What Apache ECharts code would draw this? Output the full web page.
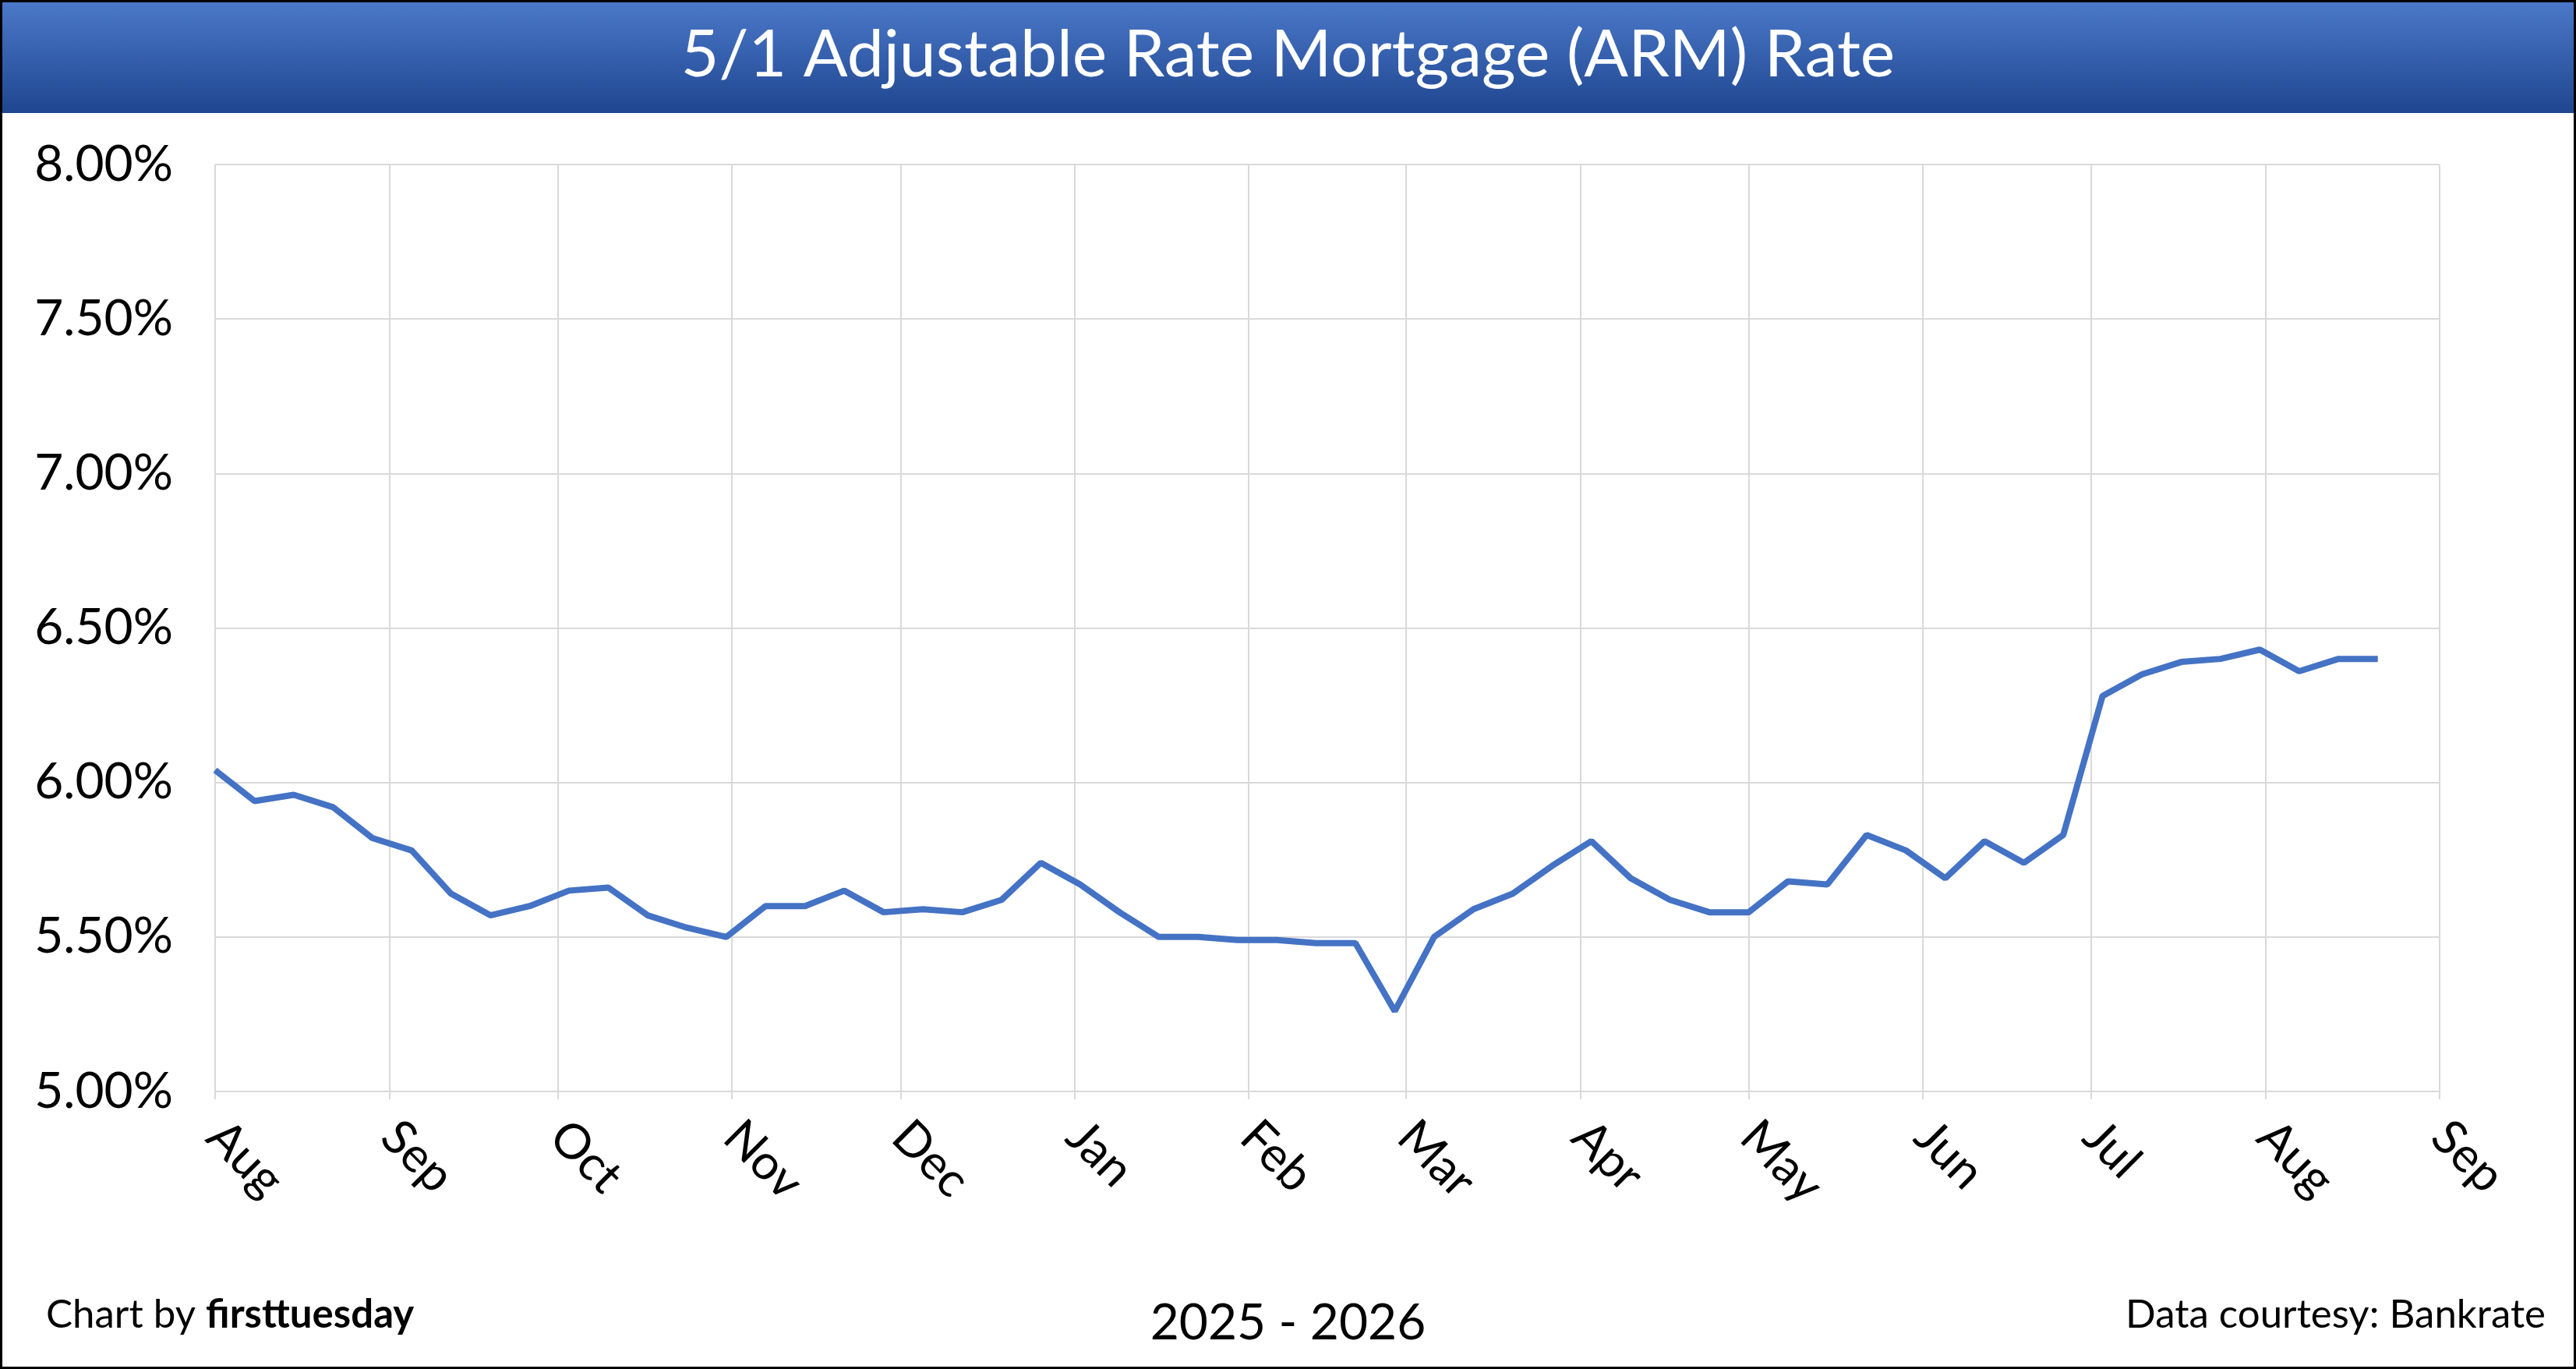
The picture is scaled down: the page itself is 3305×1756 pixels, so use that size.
<!DOCTYPE html>
<html>
<head>
<meta charset="utf-8">
<script src="https://cdn.jsdelivr.net/npm/echarts@6/dist/echarts.min.js"></script>
<style>
  html, body { margin: 0; padding: 0; background: #fff; }
  #chart { width: 3305px; height: 1756px; box-sizing: border-box; border: 3px solid #000; }
</style>
</head>
<body>
<div id="chart"></div>
<script>
// weekly rates, starting Aug 1 2025
var rates = [6.04, 5.94, 5.96, 5.92, 5.82, 5.78, 5.64, 5.57, 5.60, 5.65, 5.66, 5.57, 5.53, 5.50,
  5.60, 5.60, 5.65, 5.58, 5.59, 5.58, 5.62, 5.74, 5.67, 5.58, 5.50, 5.50, 5.49, 5.49, 5.48, 5.48,
  5.26, 5.50, 5.59, 5.64, 5.73, 5.81, 5.69, 5.62, 5.58, 5.58, 5.68, 5.67, 5.83, 5.78, 5.69, 5.81,
  5.74, 5.83, 6.28, 6.35, 6.39, 6.40, 6.43, 6.36, 6.40, 6.40];
// days since Aug 1 2025 at each month start
var monthDays = [0, 31, 61, 92, 122, 153, 184, 212, 243, 273, 304, 334, 365, 396];
var monthNames = ["Aug", "Sep", "Oct", "Nov", "Dec", "Jan", "Feb", "Mar", "Apr", "May", "Jun", "Jul", "Aug", "Sep"];

var seriesData = [];
for (var i = 0; i < rates.length; i++) {
  seriesData.push([i * 7, rates[i]]);
}

var font = "Lato, 'Open Sans', sans-serif";
var chart = echarts.init(document.getElementById("chart"));
chart.setOption({
  animation: false,
  textStyle: { fontFamily: font },
  grid: { left: 273, right: 172, top: 208, bottom: 353 },
  graphic: [
    {
      type: "rect", left: 0, top: 0,
      shape: { width: 3299, height: 142 },
      style: {
        fill: new echarts.graphic.LinearGradient(0, 0, 0, 1, [
          { offset: 0, color: "#4a78c8" },
          { offset: 1, color: "#1f4690" }
        ])
      }
    },
    {
      type: "text", left: "center", top: 26,
      style: { text: "5/1 Adjustable Rate Mortgage (ARM) Rate", fill: "#fff", font: "84px " + font }
    },
    {
      type: "text", left: 56, top: 1658,
      style: {
        text: "{a|Chart by }{b|firsttuesday}",
        rich: {
          a: { fontSize: 51, fontFamily: font, fill: "#000" },
          b: { fontSize: 51, fontFamily: font, fontWeight: "bold", fill: "#000" }
        }
      }
    },
    {
      type: "text", left: "center", top: 1662,
      style: { text: "2025 - 2026", fill: "#000", font: "64px " + font }
    },
    {
      type: "text", right: 36, top: 1658,
      style: { text: "Data courtesy: Bankrate", fill: "#000", font: "51px " + font }
    }
  ],
  xAxis: {
    type: "value", min: 0, max: 396,
    axisLine: { show: true, lineStyle: { color: "#d9d9d9", width: 2 } },
    axisTick: { show: true, customValues: monthDays, length: 10, lineStyle: { color: "#d9d9d9", width: 2 } },
    splitLine: { show: true, lineStyle: { color: "#d9d9d9", width: 2 } },
    axisLabel: {
      customValues: monthDays, rotate: -45, margin: 48,
      fontSize: 62, color: "#000", fontFamily: font,
      formatter: function (v) { return monthNames[monthDays.indexOf(v)]; }
    }
  },
  yAxis: {
    type: "value", min: 5, max: 8, interval: 0.5,
    axisLine: { show: false }, axisTick: { show: false },
    splitLine: { lineStyle: { color: "#d9d9d9", width: 2 } },
    axisLabel: {
      fontSize: 64, color: "#000", fontFamily: font, margin: 54,
      formatter: function (v) { return v.toFixed(2) + "%"; }
    }
  },
  series: [{
    type: "line", data: seriesData, showSymbol: false,
    lineStyle: { color: "#4472c4", width: 8 }
  }]
});
</script>
</body>
</html>
